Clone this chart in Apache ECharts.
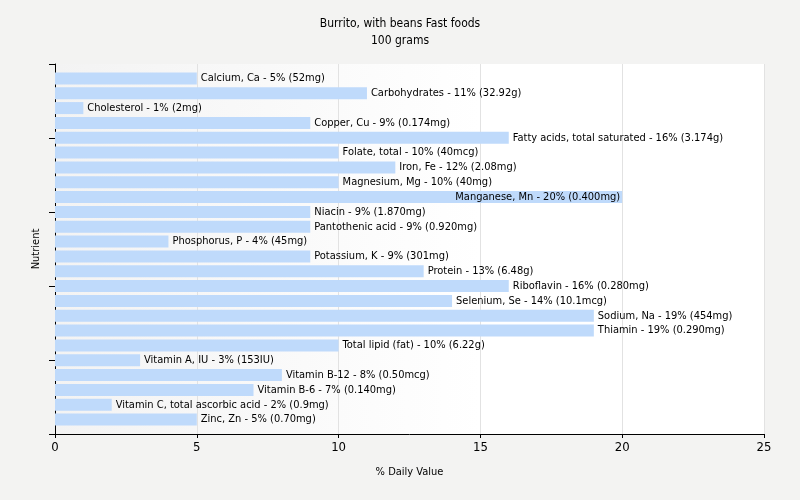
<!DOCTYPE html>
<html><head><meta charset="utf-8">
<script src="https://cdn.jsdelivr.net/npm/echarts@6/dist/echarts.min.js"></script>
<style>html,body{margin:0;padding:0;background:#f3f3f2;}#c{width:800px;height:500px;}</style>
</head><body><div id="c"></div>
<script>
const nutrients = ["Calcium, Ca","Carbohydrates","Cholesterol","Copper, Cu","Fatty acids, total saturated","Folate, total","Iron, Fe","Magnesium, Mg","Manganese, Mn","Niacin","Pantothenic acid","Phosphorus, P","Potassium, K","Protein","Riboflavin","Selenium, Se","Sodium, Na","Thiamin","Total lipid (fat)","Vitamin A, IU","Vitamin B-12","Vitamin B-6","Vitamin C, total ascorbic acid","Zinc, Zn"];
const dailyValues = [5,11,1,9,16,10,12,10,20,9,9,4,9,13,16,14,19,19,10,3,8,7,2,5];
const amounts = ["52mg","32.92g","2mg","0.174mg","3.174g","40mcg","2.08mg","40mg","0.400mg","1.870mg","0.920mg","45mg","301mg","6.48g","0.280mg","10.1mcg","454mg","0.290mg","6.22g","153IU","0.50mcg","0.140mg","0.9mg","0.70mg"];
const xTicks = [0,5,10,15,20,25];
const FONT = '"DejaVu Sans Condensed", "Liberation Sans", sans-serif';

const chart = echarts.init(document.getElementById('c'));
const data = dailyValues.map((v,i)=>{
  const d = {value:v};
  if (v >= 20) d.label = {position:'insideRight', distance:2};
  return d;
});
const xMin = xTicks[0], xMax = xTicks[xTicks.length-1];
chart.setOption({
  backgroundColor:'#f3f3f2',
  animation:false,
  title:{text:'Burrito, with beans Fast foods\n100 grams', left:'center', top:10,
    textStyle:{fontFamily:FONT, fontSize:12, fontWeight:'normal', color:'#000', lineHeight:17}},
  grid:[
    {left:55, right:36, top:71, bottom:73, show:false},
    {left:55, right:36, top:64, bottom:66, show:true, borderWidth:0, z:0,
     backgroundColor:{type:'linear',x:0,y:0,x2:1,y2:0,colorStops:[{offset:0,color:'#f3f3f3'},{offset:0.6,color:'#ffffff'},{offset:1,color:'#ffffff'}]}}
  ],
  xAxis:[
    {gridIndex:0, type:'value', min:xMin, max:xMax, interval:5, show:false},
    {gridIndex:1, type:'value', min:xMin, max:xMax, interval:5,
    name:'% Daily Value', nameLocation:'middle', nameGap:33,
    nameTextStyle:{fontFamily:FONT, fontSize:11, color:'#000'},
    axisLine:{show:true, lineStyle:{color:'#000', width:1}},
    axisTick:{show:true, length:4, lineStyle:{color:'#000'}},
    axisLabel:{fontFamily:FONT, fontSize:13, color:'#000', margin:7},
    splitLine:{show:true, lineStyle:{color:'#e2e2e2', width:1}}}
  ],
  yAxis:[
   {gridIndex:0, type:'category', data:nutrients, inverse:true, show:false},
   {gridIndex:1, type:'value', min:0, max:5, interval:1,
    name:'Nutrient', nameLocation:'middle', nameGap:13,
    nameTextStyle:{fontFamily:FONT, fontSize:11, color:'#000'},
    axisLine:{show:true, lineStyle:{color:'#000'}}, axisTick:{show:true, length:6, lineStyle:{color:'#000'}},
    axisLabel:{show:false}, splitLine:{show:false}}
  ],
  series:[{type:'bar', data:data, xAxisIndex:0, yAxisIndex:0, barCategoryGap:'19%', z:3,
    itemStyle:{color:'#bfdafb'},
    label:{show:true, position:'right', distance:4, fontFamily:FONT, fontSize:11, color:'#000',
      formatter:p=>nutrients[p.dataIndex]+' - '+p.value+'% ('+amounts[p.dataIndex]+')'}}]
});
</script></body></html>
